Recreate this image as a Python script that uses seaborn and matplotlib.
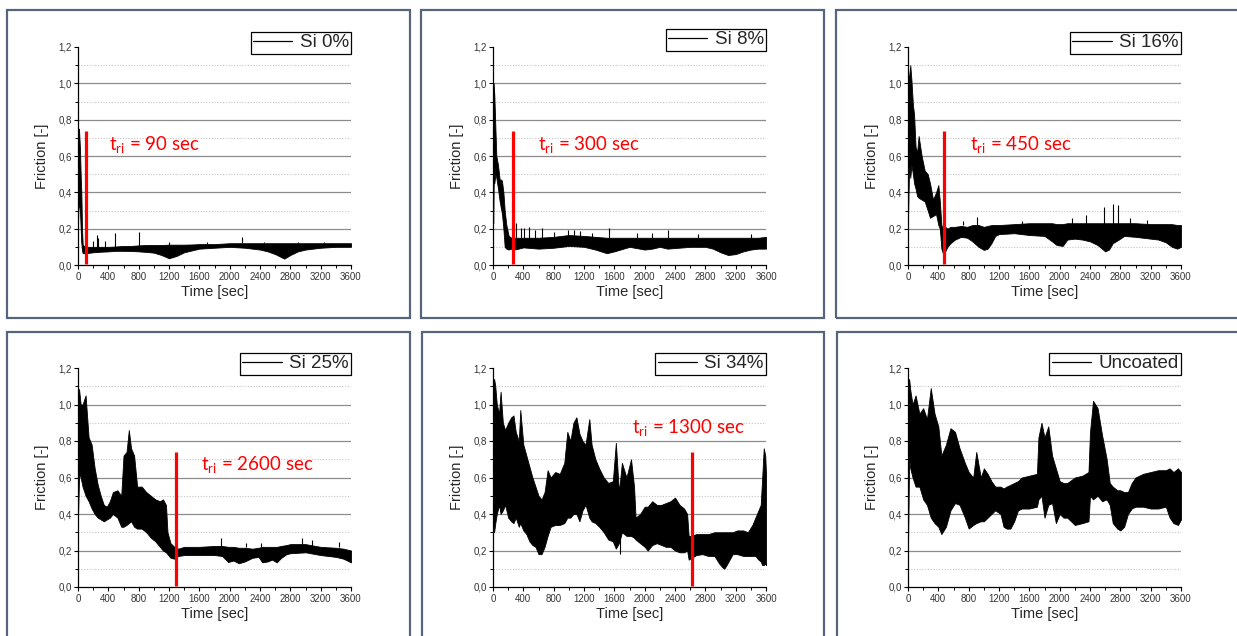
import numpy as np
import pandas as pd
import matplotlib
matplotlib.use("Agg")
import matplotlib.pyplot as plt
import seaborn as sns
from matplotlib.patches import Rectangle
from matplotlib.lines import Line2D
from matplotlib.ticker import MultipleLocator, FuncFormatter

# ---------------- data ----------------
names = ["Si 0%", "Si 8%", "Si 16%", "Si 25%", "Si 34%", "Uncoated"]

si0_t = [0, 5, 13, 26, 35, 44, 53, 62, 100, 200, 300, 400, 500, 600, 700, 800, 900, 1000, 1100, 1200,
         1300, 1400, 1500, 1600, 1800, 2000, 2200, 2400, 2500, 2600, 2720, 2800, 2900, 3000, 3200, 3400, 3500, 3600]
si0_lo = [0.23, 0.3, 0.35, 0.3, 0.2, 0.12, 0.08, 0.065, 0.065, 0.07, 0.073, 0.075, 0.078, 0.078, 0.077, 0.075, 0.072, 0.068, 0.055, 0.037,
          0.05, 0.07, 0.08, 0.09, 0.095, 0.1, 0.095, 0.085, 0.075, 0.06, 0.035, 0.055, 0.075, 0.085, 0.095, 0.1, 0.1, 0.1]
si0_hi = [0.45, 0.75, 0.75, 0.64, 0.5, 0.4, 0.2, 0.11, 0.1, 0.1, 0.1, 0.1, 0.102, 0.105, 0.105, 0.108, 0.11, 0.11, 0.11, 0.112,
          0.112, 0.112, 0.113, 0.115, 0.115, 0.12, 0.12, 0.12, 0.12, 0.12, 0.12, 0.12, 0.12, 0.12, 0.12, 0.12, 0.12, 0.12]
si0_spk_t = [200, 250, 270, 350, 493, 806, 1200, 1700, 2159, 2450, 2900, 3250]
si0_spk_lo = [0.1, 0.1, 0.1, 0.1, 0.1, 0.1, 0.11, 0.115, 0.12, 0.12, 0.12, 0.12]
si0_spk_hi = [0.13, 0.165, 0.15, 0.13, 0.174, 0.183, 0.125, 0.125, 0.156, 0.125, 0.125, 0.125]

si8_t = [0, 4, 9, 18, 31, 44, 66, 88, 110, 119, 137, 154, 176, 207, 242, 300, 400, 600, 800, 1000,
         1200, 1350, 1500, 1600, 1800, 2000, 2100, 2200, 2300, 2450, 2600, 2800, 2900, 3000, 3100, 3200, 3300, 3400, 3500, 3600]
si8_hi = [0.23, 0.9, 1.0, 0.93, 0.76, 0.6, 0.55, 0.47, 0.47, 0.46, 0.4, 0.3, 0.22, 0.16, 0.15, 0.15, 0.15, 0.15, 0.155, 0.165,
          0.16, 0.155, 0.15, 0.15, 0.15, 0.15, 0.15, 0.15, 0.15, 0.15, 0.15, 0.15, 0.15, 0.15, 0.15, 0.15, 0.15, 0.15, 0.15, 0.155]
si8_lo = [0.23, 0.23, 0.45, 0.45, 0.5, 0.48, 0.42, 0.35, 0.3, 0.28, 0.2, 0.1, 0.09, 0.085, 0.09, 0.086, 0.097, 0.09, 0.095, 0.105,
          0.1, 0.085, 0.065, 0.075, 0.1, 0.085, 0.09, 0.1, 0.09, 0.095, 0.1, 0.1, 0.09, 0.07, 0.055, 0.06, 0.075, 0.085, 0.09, 0.09]
si8_spk_t = [300, 366, 410, 476, 560, 652, 800, 991, 1071, 1150, 1300, 1533, 1900, 2100, 2313, 2700, 3400]
si8_spk_lo = [0.15] * 17
si8_spk_hi = [0.233, 0.205, 0.205, 0.21, 0.19, 0.205, 0.18, 0.193, 0.193, 0.185, 0.175, 0.205, 0.175, 0.175, 0.193, 0.17, 0.17]

si16_t = [0, 15, 30, 45, 65, 80, 100, 120, 140, 180, 220, 260, 290, 330, 370, 400, 420, 440, 460, 490,
          520, 560, 620, 700, 780, 850, 930, 1000, 1050, 1100, 1150, 1200, 1400, 1600, 1800, 1900, 1960, 2040, 2100, 2200,
          2300, 2400, 2500, 2600, 2650, 2700, 2780, 2850, 3000, 3200, 3300, 3400, 3480, 3550, 3600]
si16_hi = [1.04, 1.04, 1.1, 1.02, 0.88, 0.83, 0.65, 0.62, 0.71, 0.6, 0.52, 0.5, 0.45, 0.36, 0.4, 0.44, 0.35, 0.22, 0.2, 0.21,
           0.2, 0.21, 0.21, 0.215, 0.21, 0.22, 0.22, 0.21, 0.215, 0.22, 0.22, 0.22, 0.225, 0.23, 0.23, 0.23, 0.225, 0.225, 0.23, 0.23,
           0.23, 0.23, 0.23, 0.23, 0.23, 0.23, 0.23, 0.23, 0.23, 0.225, 0.225, 0.225, 0.225, 0.22, 0.22]
si16_lo = [0.25, 0.55, 0.48, 0.55, 0.5, 0.45, 0.42, 0.38, 0.37, 0.36, 0.35, 0.3, 0.26, 0.27, 0.28, 0.22, 0.2, 0.09, 0.065, 0.075,
           0.1, 0.12, 0.14, 0.155, 0.15, 0.13, 0.1, 0.083, 0.09, 0.12, 0.16, 0.17, 0.175, 0.165, 0.16, 0.13, 0.11, 0.105, 0.14, 0.145,
           0.14, 0.13, 0.11, 0.075, 0.085, 0.12, 0.14, 0.16, 0.155, 0.145, 0.14, 0.125, 0.1, 0.09, 0.1]
si16_spk_t = [720, 912, 1500, 2168, 2348, 2586, 2705, 2771, 2926, 3146]
si16_spk_lo = [0.22] * 10
si16_spk_hi = [0.24, 0.262, 0.24, 0.26, 0.275, 0.317, 0.336, 0.33, 0.257, 0.25]

si25_t = [0, 15, 35, 60, 100, 140, 180, 220, 260, 300, 340, 380, 420, 460, 520, 570, 600, 640, 670, 700,
          740, 780, 840, 900, 960, 1020, 1080, 1120, 1160, 1180, 1220, 1270, 1320, 1400, 1600, 1800, 1900, 1980, 2050, 2120,
          2200, 2300, 2380, 2430, 2500, 2560, 2620, 2680, 2750, 2800, 3000, 3200, 3400, 3500, 3600]
si25_hi = [1.09, 1.08, 1.0, 1.0, 1.05, 0.82, 0.78, 0.65, 0.56, 0.5, 0.45, 0.44, 0.47, 0.52, 0.53, 0.5, 0.72, 0.74, 0.86, 0.76,
           0.72, 0.55, 0.55, 0.52, 0.5, 0.48, 0.47, 0.48, 0.45, 0.3, 0.24, 0.22, 0.21, 0.22, 0.22, 0.225, 0.225, 0.22, 0.22, 0.215,
           0.215, 0.21, 0.215, 0.22, 0.22, 0.22, 0.22, 0.225, 0.23, 0.235, 0.235, 0.22, 0.215, 0.21, 0.2]
si25_lo = [0.38, 0.62, 0.6, 0.55, 0.5, 0.47, 0.43, 0.4, 0.38, 0.37, 0.36, 0.37, 0.38, 0.4, 0.38, 0.33, 0.33, 0.34, 0.35, 0.36,
           0.33, 0.32, 0.32, 0.3, 0.27, 0.25, 0.22, 0.2, 0.19, 0.18, 0.16, 0.155, 0.17, 0.175, 0.175, 0.175, 0.17, 0.137, 0.145, 0.13,
           0.14, 0.16, 0.165, 0.135, 0.14, 0.15, 0.135, 0.16, 0.18, 0.185, 0.19, 0.175, 0.165, 0.155, 0.135]
si25_spk_t = [1881, 2220, 2410, 2948, 3089, 3446]
si25_spk_lo = [0.22] * 6
si25_spk_hi = [0.266, 0.24, 0.24, 0.266, 0.256, 0.247]

si34_t = [0, 15, 30, 50, 80, 100, 130, 160, 200, 240,
          270, 300, 340, 360, 400, 440, 480, 520, 560, 600,
          640, 680, 720, 760, 820, 880, 940, 980, 1020, 1060,
          1100, 1140, 1180, 1220, 1270, 1300, 1350, 1400, 1460, 1520,
          1580, 1620, 1660, 1700, 1760, 1820, 1860, 1880, 1940, 2000,
          2040, 2100, 2160, 2220, 2280, 2340, 2400, 2460, 2520, 2560,
          2580, 2620, 2680, 2760, 2840, 2920, 2980, 3020, 3050, 3080,
          3120, 3160, 3220, 3300, 3360, 3420, 3460, 3500, 3530, 3550,
          3570, 3590, 3600]
si34_hi = [1.12, 1.14, 1.1, 1.0, 0.95, 1.07, 0.9, 0.86, 0.9, 0.93,
           0.94, 0.85, 0.8, 0.97, 0.78, 0.72, 0.66, 0.6, 0.55, 0.5,
           0.48, 0.52, 0.64, 0.6, 0.63, 0.62, 0.68, 0.85, 0.8, 0.9,
           0.93, 0.84, 0.8, 0.78, 0.92, 0.78, 0.7, 0.65, 0.6, 0.57,
           0.58, 0.79, 0.52, 0.68, 0.6, 0.7, 0.55, 0.38, 0.4, 0.44,
           0.44, 0.47, 0.45, 0.45, 0.46, 0.47, 0.49, 0.45, 0.43, 0.4,
           0.28, 0.28, 0.29, 0.29, 0.29, 0.3, 0.3, 0.3, 0.3, 0.3,
           0.3, 0.3, 0.31, 0.31, 0.3, 0.34, 0.38, 0.42, 0.45, 0.6,
           0.76, 0.72, 0.62]
si34_lo = [0.3, 0.3, 0.35, 0.4, 0.45, 0.4, 0.42, 0.45, 0.38, 0.36,
           0.35, 0.38, 0.33, 0.35, 0.31, 0.29, 0.25, 0.23, 0.22, 0.18,
           0.18, 0.22, 0.28, 0.33, 0.34, 0.34, 0.35, 0.38, 0.38, 0.4,
           0.4, 0.36, 0.42, 0.45, 0.38, 0.36, 0.35, 0.33, 0.3, 0.26,
           0.25, 0.21, 0.24, 0.3, 0.28, 0.28, 0.27, 0.26, 0.24, 0.22,
           0.2, 0.23, 0.24, 0.23, 0.22, 0.22, 0.2, 0.19, 0.19, 0.2,
           0.15, 0.16, 0.175, 0.18, 0.17, 0.17, 0.13, 0.11, 0.1, 0.12,
           0.15, 0.18, 0.18, 0.17, 0.17, 0.17, 0.17, 0.15, 0.14, 0.12,
           0.12, 0.13, 0.12]
si34_spk_t = [1680]
si34_spk_lo = [0.18]
si34_spk_hi = [0.3]

unc_t = [0, 15, 30, 60, 100, 150, 200, 250, 300, 350,
         400, 440, 500, 560, 620, 680, 750, 800, 860, 900,
         960, 1000, 1050, 1100, 1150, 1220, 1260, 1300, 1350, 1400,
         1450, 1500, 1600, 1700, 1720, 1760, 1800, 1850, 1900, 1950,
         2000, 2050, 2100, 2200, 2300, 2380, 2400, 2440, 2500, 2560,
         2620, 2660, 2700, 2760, 2800, 2850, 2900, 2950, 3000, 3100,
         3200, 3300, 3400, 3450, 3500, 3560, 3600]
unc_hi = [1.12, 1.14, 1.08, 1.0, 1.05, 0.95, 0.98, 0.92, 1.09, 0.95,
          0.88, 0.72, 0.78, 0.87, 0.85, 0.76, 0.68, 0.63, 0.6, 0.74,
          0.6, 0.65, 0.62, 0.58, 0.55, 0.55, 0.54, 0.55, 0.56, 0.57,
          0.58, 0.6, 0.61, 0.62, 0.82, 0.9, 0.82, 0.88, 0.72, 0.65,
          0.58, 0.57, 0.57, 0.6, 0.61, 0.63, 0.85, 1.02, 0.98, 0.83,
          0.7, 0.57, 0.55, 0.53, 0.53, 0.52, 0.52, 0.57, 0.6, 0.62,
          0.63, 0.64, 0.64, 0.65, 0.63, 0.65, 0.63]
unc_lo = [0.22, 0.7, 0.65, 0.6, 0.55, 0.55, 0.48, 0.45, 0.38, 0.35,
          0.33, 0.29, 0.33, 0.42, 0.46, 0.45, 0.38, 0.32, 0.34, 0.35,
          0.36, 0.36, 0.38, 0.4, 0.42, 0.4, 0.33, 0.32, 0.32, 0.36,
          0.42, 0.43, 0.43, 0.44, 0.48, 0.5, 0.38, 0.45, 0.46, 0.35,
          0.4, 0.38, 0.38, 0.34, 0.35, 0.36, 0.5, 0.48, 0.5, 0.47,
          0.48, 0.45, 0.35, 0.32, 0.31, 0.33, 0.4, 0.43, 0.44, 0.44,
          0.43, 0.43, 0.44, 0.38, 0.35, 0.34, 0.37]
unc_spk_t = []
unc_spk_lo = []
unc_spk_hi = []

tri_time = [100, 260, 480, 1293, 2620, None]
tri_text = ["90 sec", "300 sec", "450 sec", "2600 sec", "1300 sec", None]

x_ticks = [0, 400, 800, 1200, 1600, 2000, 2400, 2800, 3200, 3600]
y_ticks = [0.0, 0.2, 0.4, 0.6, 0.8, 1.0, 1.2]

series = [
    (si0_t, si0_lo, si0_hi, si0_spk_t, si0_spk_lo, si0_spk_hi),
    (si8_t, si8_lo, si8_hi, si8_spk_t, si8_spk_lo, si8_spk_hi),
    (si16_t, si16_lo, si16_hi, si16_spk_t, si16_spk_lo, si16_spk_hi),
    (si25_t, si25_lo, si25_hi, si25_spk_t, si25_spk_lo, si25_spk_hi),
    (si34_t, si34_lo, si34_hi, si34_spk_t, si34_spk_lo, si34_spk_hi),
    (unc_t, unc_lo, unc_hi, unc_spk_t, unc_spk_lo, unc_spk_hi),
]

# ---------------- layout ----------------
W, H = 1237, 636
sns.set_style("white")
plt.rcParams["font.family"] = ["Liberation Sans", "DejaVu Sans"]
plt.rcParams["mathtext.fontset"] = "custom"
plt.rcParams["mathtext.rm"] = "Lato"
plt.rcParams["mathtext.it"] = "Lato:italic"

fig = plt.figure(figsize=(W / 100, H / 100), dpi=100)
fig.patch.set_facecolor("white")

frames = [(7, 10, 410, 318), (421, 10, 824, 318), (836, 10, 1242, 318),
          (7, 332, 410, 642), (422, 332, 824, 642), (837, 332, 1242, 642)]
ax_left = [78, 493, 908]
ax_rows = [(47, 265), (368, 587)]
ax_w = 273
text_pos = [(409, 0.633), (597, 0.633), (811, 0.633), (1624, 0.641), (1837, 0.842), None]
legend_top = [1.069, 1.083, 1.069, 1.068, 1.068, 1.068]

for (x0, y0, x1, y1) in frames:
    fig.add_artist(Rectangle((x0 / W, 1 - y1 / H), (x1 - x0) / W, (y1 - y0) / H,
                             transform=fig.transFigure, fill=False,
                             edgecolor="#56657a", linewidth=1.6))

comma = FuncFormatter(lambda v, p: f"{v:.1f}".replace(".", ","))

for i, (t, lo, hi, st, slo, shi) in enumerate(series):
    r, c = divmod(i, 3)
    top, bot = ax_rows[r]
    ax = fig.add_axes([ax_left[c] / W, 1 - bot / H, ax_w / W, (bot - top) / H])
    ax.set_facecolor("white")

    for g in [0.2, 0.4, 0.6, 0.8, 1.0]:
        ax.axhline(g, color="#8c8c8c", lw=0.9, zorder=0)
    for g in [0.1, 0.3, 0.5, 0.7, 0.9, 1.1]:
        ax.axhline(g, color="#c4c4c4", lw=0.8, ls=(0, (1, 1.5)), zorder=0)

    df = pd.DataFrame({"t": list(t) + list(t), "f": list(lo) + list(hi)})
    sns.lineplot(data=df, x="t", y="f", estimator="mean", errorbar=("pi", 100),
                 color="black", linewidth=0.5, legend=False, ax=ax,
                 err_kws=dict(alpha=1, linewidth=0.6, edgecolor="black"))
    if len(st):
        ax.vlines(st, slo, shi, color="black", linewidth=0.8)

    if tri_time[i] is not None:
        ax.vlines([tri_time[i]], 0.005, 0.74, color="#ff0000", linewidth=2.3, zorder=5)
        tx, ty = text_pos[i]
        ax.text(tx, ty, r"$\mathrm{t_{ri}}$" + " = " + tri_text[i], color="#ff0000",
                fontsize=13.5, family="Lato", va="baseline", ha="left", zorder=6)

    ax.set_xlim(0, 3600)
    ax.set_ylim(0, 1.2)
    ax.set_xticks(x_ticks)
    ax.set_yticks(y_ticks)
    ax.xaxis.set_minor_locator(MultipleLocator(200))
    ax.yaxis.set_minor_locator(MultipleLocator(0.1))
    ax.yaxis.set_major_formatter(comma)
    ax.tick_params(which="major", direction="out", length=3, width=0.8,
                   labelsize=7, labelcolor="#333333", color="black")
    ax.tick_params(which="minor", direction="out", length=2, width=0.7, color="black")
    ax.tick_params(axis="y", pad=1.5)
    ax.tick_params(axis="x", pad=2.0)
    ax.tick_params(bottom=True, left=True, which="both")
    for s in ["top", "right"]:
        ax.spines[s].set_visible(False)
    for s in ["left", "bottom"]:
        ax.spines[s].set_color("black")
        ax.spines[s].set_linewidth(0.9)

    ax.set_xlabel("Time [sec]", fontsize=10.5)
    ax.set_ylabel("Friction [-]", fontsize=10.5)
    ax.xaxis.set_label_coords(0.5, -0.093)
    ax.yaxis.set_label_coords(-0.107, 0.5)

    h = Line2D([], [], color="black", linewidth=0.9)
    leg = ax.legend([h], [names[i]], loc="upper right", bbox_to_anchor=(1.0, legend_top[i]),
                    frameon=True, fancybox=False, edgecolor="black", framealpha=1,
                    fontsize=13.5, handlelength=2.1, handletextpad=0.4,
                    borderpad=0.12, borderaxespad=0)
    leg.get_frame().set_linewidth(0.9)

fig.savefig("out.png", dpi=100, facecolor="white")
